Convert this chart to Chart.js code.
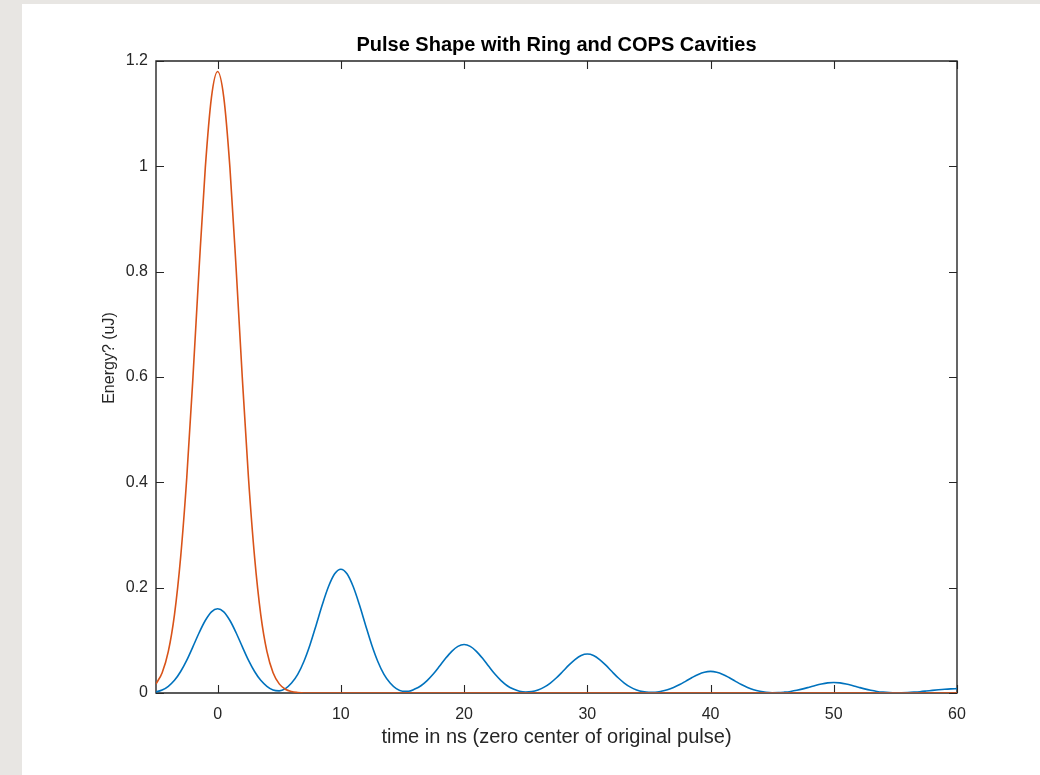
<!DOCTYPE html>
<html>
<head>
<meta charset="utf-8">
<script src="https://cdn.jsdelivr.net/npm/chart.js@4.4.1/dist/chart.umd.min.js"></script>
<style>
  html, body { margin: 0; padding: 0; background: #e8e6e3; width: 1040px; height: 775px; overflow: hidden; }
  #wrap { position: absolute; left: 22px; top: 4px; width: 1018px; height: 771px; background: #ffffff; }
  canvas { display: block; }
</style>
</head>
<body>
<div id="wrap"><canvas id="c" width="1018" height="771"></canvas></div>
<script>
// ---- data ----
const titleText = 'Pulse Shape with Ring and COPS Cavities';
const xTitle = 'time in ns (zero center of original pulse)';
const yTitle = 'Energy? (uJ)';

const xTicks = [0, 10, 20, 30, 40, 50, 60];
const yTicks = [0, 0.2, 0.4, 0.6, 0.8, 1, 1.2];
const yTickLabels = ['0', '0.2', '0.4', '0.6', '0.8', '1', '1.2'];

// Ring cavity (blue), sampled every 0.5 ns
const ringTime = [
  -5,-4.5,-4,-3.5,-3,-2.5,-2,-1.5,-1,-0.5,0,0.5,1,1.5,2,2.5,3,3.5,4,4.5,
  5,5.5,6,6.5,7,7.5,8,8.5,9,9.5,10,10.5,11,11.5,12,12.5,13,13.5,14,14.5,
  15,15.5,16,16.5,17,17.5,18,18.5,19,19.5,20,20.5,21,21.5,22,22.5,23,23.5,24,24.5,
  25,25.5,26,26.5,27,27.5,28,28.5,29,29.5,30,30.5,31,31.5,32,32.5,33,33.5,34,34.5,
  35,35.5,36,36.5,37,37.5,38,38.5,39,39.5,40,40.5,41,41.5,42,42.5,43,43.5,44,44.5,
  45,45.5,46,46.5,47,47.5,48,48.5,49,49.5,50,50.5,51,51.5,52,52.5,53,53.5,54,54.5,
  55,55.5,56,56.5,57,57.5,58,58.5,59,59.5,60];
const ringEnergy = [
  0.002,0.0056,0.0128,0.024,0.0408,0.0624,0.088,0.1144,0.1376,0.1541,
  0.160,0.1541,0.1376,0.1144,0.088,0.0624,0.0408,0.024,0.0128,0.0056,
  0.0040,0.0083,0.0188,0.0353,0.0599,0.0917,0.1293,0.1680,0.2021,0.2263,
  0.235,0.2263,0.2021,0.1680,0.1293,0.0917,0.0599,0.0353,0.0188,0.0082,
  0.0033,0.0032,0.0074,0.0138,0.0235,0.0359,0.0506,0.0658,0.0791,0.0886,
  0.092,0.0886,0.0791,0.0658,0.0506,0.0359,0.0235,0.0138,0.0074,0.0032,
  0.0017,0.0026,0.0059,0.0111,0.0189,0.0289,0.0407,0.0529,0.0636,0.0713,
  0.074,0.0713,0.0636,0.0529,0.0407,0.0289,0.0189,0.0111,0.0059,0.0026,
  0.0012,0.0014,0.0033,0.0062,0.0105,0.0160,0.0226,0.0293,0.0353,0.0395,
  0.041,0.0395,0.0353,0.0293,0.0226,0.0160,0.0105,0.0062,0.0033,0.0014,
  0.0006,0.0007,0.0016,0.0030,0.0051,0.0078,0.0110,0.0143,0.0172,0.0193,
  0.020,0.0193,0.0172,0.0143,0.0110,0.0078,0.0051,0.0030,0.0016,0.0007,
  0.0003,0.0005,0.0009,0.0016,0.0025,0.0037,0.0050,0.0062,0.0072,0.0079,0.0083];

// COPS cavity (orange)
const copsTime = [-5,-4.5,-4,-3.5,-3,-2.5,-2,-1.5,-1,-0.5,0,0.5,1,1.5,2,2.5,3,3.5,4,4.5,5,5.5,6,6.5,7,60];
const copsEnergy = [0.0173,0.0386,0.079,0.149,0.258,0.410,0.600,0.807,0.997,1.131,1.18,1.131,0.997,0.807,
  0.600,0.410,0.258,0.149,0.079,0.0386,0.0173,0.0071,0.0027,0.0009,0,0];

const toPts = (xs, ys) => xs.map((x, i) => ({ x: x, y: ys[i] }));

const FONT = '"Liberation Sans", Arial, Helvetica, sans-serif';
const AXIS_COLOR = '#262626';
const TICK_LEN = 8;

const framePlugin = {
  id: 'frame',
  beforeDatasetsDraw(chart) {
    const { ctx, chartArea: a, scales } = chart;
    ctx.save();
    ctx.strokeStyle = AXIS_COLOR;
    ctx.lineWidth = 1.4;
    ctx.beginPath();
    ctx.rect(a.left, a.top, a.right - a.left, a.bottom - a.top);
    ctx.stroke();
    ctx.lineWidth = 1.1;
    ctx.beginPath();
    scales.x.ticks.forEach(t => {
      const px = Math.round(scales.x.getPixelForValue(t.value)) + 0.5;
      ctx.moveTo(px, a.bottom); ctx.lineTo(px, a.bottom - TICK_LEN);
      ctx.moveTo(px, a.top); ctx.lineTo(px, a.top + TICK_LEN);
    });
    scales.y.ticks.forEach(t => {
      const py = Math.round(scales.y.getPixelForValue(t.value)) + 0.5;
      ctx.moveTo(a.left, py); ctx.lineTo(a.left + TICK_LEN, py);
      ctx.moveTo(a.right, py); ctx.lineTo(a.right - TICK_LEN, py);
    });
    ctx.stroke();
    ctx.restore();
  },
  afterDraw(chart) {
    const { ctx, chartArea: a } = chart;
    ctx.save();
    // chart title, centred over the plot area
    ctx.fillStyle = '#000000';
    ctx.font = 'bold 20px ' + FONT;
    ctx.textAlign = 'center';
    ctx.textBaseline = 'middle';
    ctx.fillText(titleText, (a.left + a.right) / 2, 41);
    // y axis title
    ctx.fillStyle = AXIS_COLOR;
    ctx.font = '16px ' + FONT;
    ctx.translate(88, 354);
    ctx.rotate(-Math.PI / 2);
    ctx.fillText(yTitle, 0, 0);
    ctx.restore();
  }
};

new Chart(document.getElementById('c'), {
  type: 'line',
  data: {
    datasets: [
      {
        label: 'COPS',
        data: toPts(copsTime, copsEnergy),
        borderColor: '#D95319',
        borderWidth: 1.6,
        pointRadius: 0,
        cubicInterpolationMode: 'monotone',
        fill: false
      },
      {
        label: 'Ring',
        data: toPts(ringTime, ringEnergy),
        borderColor: '#0072BD',
        borderWidth: 1.6,
        pointRadius: 0,
        cubicInterpolationMode: 'monotone',
        fill: false
      }
    ]
  },
  options: {
    responsive: false,
    animation: false,
    layout: { padding: { left: 0, right: 83, top: 57, bottom: 0 } },
    plugins: {
      legend: { display: false },
      tooltip: { enabled: false },
      title: { display: false }
    },
    scales: {
      x: {
        type: 'linear',
        min: -5,
        max: 60,
        afterBuildTicks: s => { s.ticks = xTicks.map(v => ({ value: v })); },
        afterFit: s => { s.height = 82; },
        grid: { display: false, drawTicks: false },
        border: { display: false },
        ticks: {
          color: AXIS_COLOR,
          font: { family: FONT, size: 16 },
          padding: 12,
          maxRotation: 0,
          callback: v => String(v)
        },
        title: {
          display: true,
          text: xTitle,
          color: AXIS_COLOR,
          font: { family: FONT, size: 20, lineHeight: 1.2 },
          padding: { top: 0, bottom: 26 }
        }
      },
      y: {
        type: 'linear',
        min: 0,
        max: 1.2,
        afterBuildTicks: s => { s.ticks = yTicks.map(v => ({ value: v })); },
        afterFit: s => { s.width = 134; },
        grid: { display: false, drawTicks: false },
        border: { display: false },
        ticks: {
          color: AXIS_COLOR,
          font: { family: FONT, size: 16 },
          padding: 8,
          callback: (v) => { const i = yTicks.indexOf(v); return i >= 0 ? yTickLabels[i] : ''; }
        }
      }
    }
  },
  plugins: [framePlugin]
});
</script>
</body>
</html>
